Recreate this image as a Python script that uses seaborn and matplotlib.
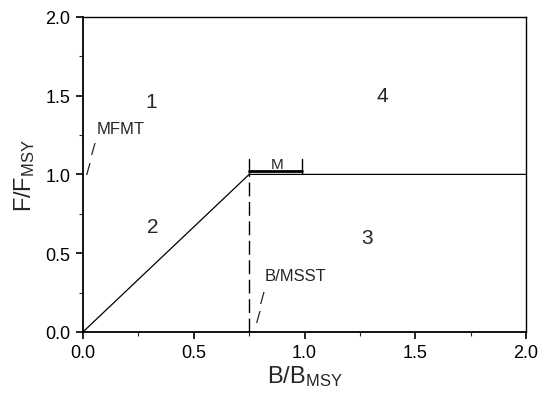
import numpy as np
import matplotlib
matplotlib.use("Agg")
import matplotlib.pyplot as plt
import seaborn as sns
from matplotlib.ticker import MultipleLocator, FormatStrFormatter

# control rule: F/FMSY against B/BMSY
rule_b = [0.0, 0.75, 2.0]
rule_f = [0.0, 1.0, 1.0]

# MSST line
msst_b = [0.75, 0.75]
msst_f = [0.0, 1.0]

# margin bracket "M"
m_b = [0.75, 0.99]
m_f = [1.022, 1.022]

zone_labels = ["1", "2", "3", "4"]
zone_b = [0.31, 0.316, 1.28, 1.35]
zone_f = [1.46, 0.67, 0.60, 1.50]

sns.set_style("ticks")
plt.rcParams["font.family"] = ["Liberation Sans", "DejaVu Sans"]
plt.rcParams["mathtext.fontset"] = "custom"
plt.rcParams["mathtext.rm"] = "Liberation Sans"
plt.rcParams["mathtext.it"] = "Liberation Sans"

fig = plt.figure(figsize=(5.39, 4.06), dpi=100)
ax = fig.add_axes([0.154, 0.180, 0.822, 0.776])

sns.lineplot(x=rule_b, y=rule_f, ax=ax, color="black", lw=0.9, sort=False)
ax.plot(msst_b, msst_f, color="black", lw=1.0, linestyle=(0, (10, 4)))
sns.lineplot(x=m_b, y=m_f, ax=ax, color="black", lw=2.0, sort=False)
for xb in m_b:
    ax.plot([xb, xb], [1.003, 1.10], color="black", lw=1.0)
ax.text(0.875, 1.065, "M", fontsize=11, ha="center", va="center")

for lab, xb, yf in zip(zone_labels, zone_b, zone_f):
    ax.text(xb, yf, lab, fontsize=15, ha="center", va="center")

ax.text(0.06, 1.29, "MFMT", fontsize=12, ha="left", va="center")
ax.text(0.045, 1.155, "/", fontsize=12, ha="center", va="center")
ax.text(0.025, 1.03, "/", fontsize=12, ha="center", va="center")
ax.text(0.82, 0.355, "B/MSST", fontsize=12, ha="left", va="center")
ax.text(0.81, 0.215, "/", fontsize=12, ha="center", va="center")
ax.text(0.79, 0.09, "/", fontsize=12, ha="center", va="center")

ax.set_xlim(0, 2)
ax.set_ylim(0, 2)
ax.xaxis.set_major_locator(MultipleLocator(0.5))
ax.xaxis.set_minor_locator(MultipleLocator(0.25))
ax.yaxis.set_major_locator(MultipleLocator(0.5))
ax.yaxis.set_minor_locator(MultipleLocator(0.25))
ax.xaxis.set_major_formatter(FormatStrFormatter("%.1f"))
ax.yaxis.set_major_formatter(FormatStrFormatter("%.1f"))
ax.tick_params(which="major", length=5, width=1.2, direction="out",
               labelsize=13, colors="black", pad=4)
ax.tick_params(which="minor", length=3, width=0.8, direction="out")
for s in ax.spines.values():
    s.set_color("black")
    s.set_linewidth(1.0)
ax.spines["left"].set_linewidth(1.3)
ax.spines["bottom"].set_linewidth(1.3)

ax.set_xlabel(r"B/B$_{\mathrm{MSY}}$", fontsize=17, labelpad=1)
ax.set_ylabel(r"F/F$_{\mathrm{MSY}}$", fontsize=17, labelpad=6)

fig.savefig("out.png", dpi=100)
